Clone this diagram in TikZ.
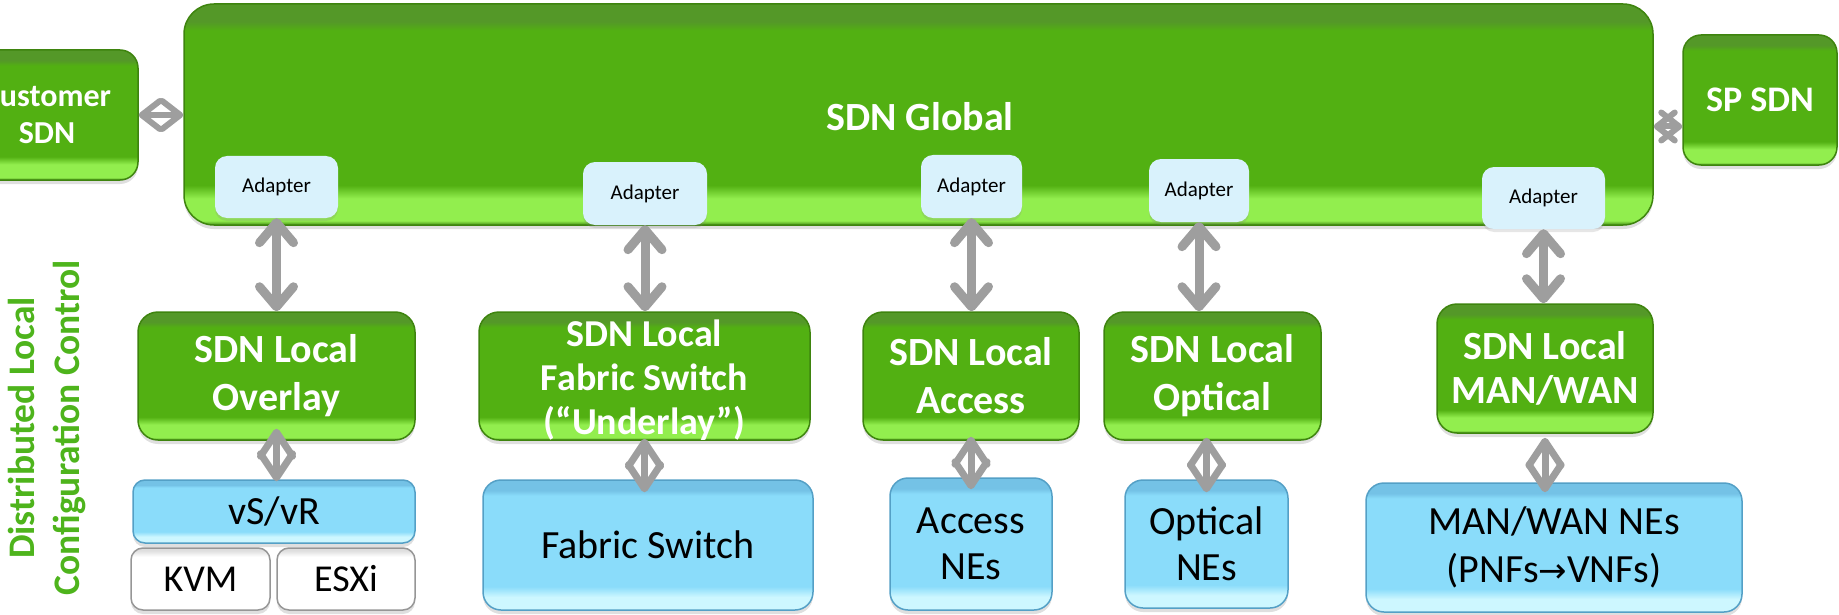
\documentclass[tikz,border=0pt]{standalone}
\usepackage{fontspec}
\setmainfont{Carlito}
\usetikzlibrary{arrows.meta,shadows}
\definecolor{gMain}{RGB}{82,176,18}
\definecolor{gTop}{RGB}{84,152,40}
\definecolor{gLight}{RGB}{146,238,78}
\definecolor{gBot}{RGB}{66,140,18}
\definecolor{gBorder}{RGB}{62,132,14}
\definecolor{bMain}{RGB}{138,220,250}
\definecolor{bTop}{RGB}{116,194,230}
\definecolor{bLight}{RGB}{205,247,255}
\definecolor{bBorder}{RGB}{84,160,198}
\definecolor{wTop}{RGB}{222,222,222}
\definecolor{wBorder}{RGB}{150,150,150}
\definecolor{adfill}{RGB}{217,242,252}
\definecolor{argray}{RGB}{158,158,158}
\definecolor{lblgreen}{RGB}{78,180,28}
\pgfdeclareverticalshading{greengloss}{100bp}{color(0bp)=(gBot); color(25bp)=(gBot); color(26bp)=(gLight); color(31bp)=(gLight); color(34bp)=(gMain); color(69bp)=(gMain); color(71bp)=(gTop); color(75bp)=(gTop); color(100bp)=(gTop)}
\pgfdeclareverticalshading{bluegloss}{100bp}{color(0bp)=(bLight); color(25bp)=(bLight); color(30bp)=(bLight); color(34bp)=(bMain); color(69bp)=(bMain); color(71bp)=(bTop); color(75bp)=(bTop); color(100bp)=(bTop)}
\pgfdeclareverticalshading{whitegloss}{100bp}{color(0bp)=(white); color(25bp)=(white); color(68bp)=(white); color(73bp)=(wTop); color(75bp)=(wTop); color(100bp)=(wTop)}
\tikzset{
  shad/.style={drop shadow={shadow xshift=0pt,shadow yshift=-4pt,opacity=0.25}},
  gbox/.style={shad, shading=greengloss, draw=gBorder, line width=1.5pt, rounded corners=20pt, inner sep=0pt, text=white, align=center, font=\fontsize{40}{48}\selectfont\bfseries},
  bbox/.style={shad, shading=bluegloss, draw=bBorder, line width=1.5pt, rounded corners=18pt, inner sep=0pt, text=black, align=center, font=\fontsize{40}{48}\selectfont},
  wbox/.style={shad, shading=whitegloss, draw=wBorder, line width=1.5pt, rounded corners=12pt, inner sep=0pt, text=black, align=center, font=\fontsize{38}{46}\selectfont},
  adbox/.style={fill=adfill, rounded corners=12pt, inner sep=0pt, text=black, font=\fontsize{21}{25}\selectfont, drop shadow={shadow xshift=0pt,shadow yshift=-3pt,opacity=0.2}},
  varrow/.style={draw=argray, line width=9pt, {Straight Barb[round,length=20pt,width=34pt]}-{Straight Barb[round,length=20pt,width=34pt]}},
  darrow/.style={draw=argray, line width=7pt, {Straight Barb[round,length=24pt,width=32pt]}-{Straight Barb[round,length=24pt,width=32pt]}},
  harrow/.style={draw=argray, line width=6pt, {Straight Barb[round,length=18pt,width=28pt]}-{Straight Barb[round,length=18pt,width=28pt]}},
}
\begin{document}
\begin{tikzpicture}[x=1pt,y=-1pt]
\useasboundingbox (0,0) rectangle (1839,615);
% side boxes
\node[gbox, rounded corners=18pt, minimum width=182pt, minimum height=130pt, font=\fontsize{32}{37}\selectfont\bfseries] (cust) at (47,115) {Customer\\SDN};
\node[gbox, rounded corners=18pt, minimum width=154pt, minimum height=130pt, font=\fontsize{36}{42}\selectfont\bfseries] (sp) at (1760,100) {SP SDN};
% global
\node[gbox, rounded corners=30pt, minimum width=1469pt, minimum height=221pt] (glob) at (918.5,114.5) {};
\node[text=white, font=\fontsize{40}{48}\selectfont\bfseries] (globt) at (920,117) {SDN Global};
% adapters
\node[adbox, minimum width=123pt, minimum height=62pt] (a1) at (276.5,187) {Adapter};
\node[adbox, minimum width=124pt, minimum height=63pt] (a2) at (645,193.5) {Adapter};
\node[adbox, minimum width=101pt, minimum height=63pt] (a3) at (971.5,186.5) {Adapter};
\node[adbox, minimum width=100pt, minimum height=63pt] (a4) at (1199,190.5) {Adapter};
\node[adbox, minimum width=123pt, minimum height=62pt] (a5) at (1543.5,198) {Adapter};
% local boxes
\node[gbox, minimum width=277pt, minimum height=128pt] (ov) at (276.5,376) {SDN Local\\Overlay};
\node[gbox, minimum width=331pt, minimum height=128pt] (fl) at (644.5,376) {};
\node[text=white, align=center, font=\fontsize{38}{44}\selectfont\bfseries] (flt) at (644.5,380) {SDN Local\\Fabric Switch\\(“Underlay”)};
\node[gbox, minimum width=216pt, minimum height=128pt] (ac) at (971,376) {SDN Local\\Access};
\node[gbox, minimum width=217pt, minimum height=128pt] (op) at (1212.5,376) {SDN Local\\Optical};
\node[gbox, minimum width=216pt, minimum height=129pt, font=\fontsize{40}{44}\selectfont\bfseries] (mw) at (1545,368.5) {SDN Local\\MAN/WAN};
% NE boxes
\node[bbox, rounded corners=12pt, minimum width=282pt, minimum height=63pt] (vs) at (274,511.5) {vS/vR};
\node[wbox, minimum width=139pt, minimum height=62pt] (kvm) at (200.5,579) {KVM};
\node[wbox, minimum width=138pt, minimum height=62pt] (esx) at (346,579) {ESXi};
\node[bbox, minimum width=330pt, minimum height=130pt] (fs) at (648,545) {Fabric Switch};
\node[bbox, minimum width=162pt, minimum height=132pt, font=\fontsize{40}{46}\selectfont] (an) at (971,544) {Access\\NEs};
\node[bbox, minimum width=163pt, minimum height=128pt, font=\fontsize{40}{46}\selectfont] (on) at (1206.5,544) {Optical\\NEs};
\node[bbox, minimum width=376pt, minimum height=129pt] (mn) at (1554,547.5) {MAN/WAN NEs\\(PNFs{\fontspec{DejaVu Sans}\fontsize{34}{40}\selectfont →}VNFs)};
% side label
\node[rotate=90, text=lblgreen, align=center, font=\fontsize{37.5}{45}\selectfont\bfseries] (lbl) at (47,428) {Distributed Local\\Configuration Control};
% connectors adapter -> local
\draw[varrow] (a1.south) -- (a1.south |- ov.north);
\draw[varrow] (a2.south) -- (a2.south |- fl.north);
\draw[varrow] (a3.south) -- (a3.south |- ac.north);
\draw[varrow] (a4.south) -- (a4.south |- op.north);
\draw[varrow] (a5.south) -- (a5.south |- mw.north);
% connectors local -> NE
\draw[darrow] ([yshift=12pt]ov.south) -- ([yshift=-2pt]ov.south |- vs.north);
\draw[darrow] ([yshift=2pt]fl.south) -- ([yshift=-13pt]fl.south |- fs.north);
\draw[darrow] ([yshift=4pt]ac.south) -- ([yshift=-12pt]ac.south |- an.north);
\draw[darrow] ([xshift=-6pt,yshift=3pt]op.south) -- ([xshift=-6pt,yshift=-13pt]op.south |- on.north);
\draw[darrow] ([yshift=-4pt]mw.south) -- ([yshift=-10pt]mw.south |- mn.north);
% side connectors
\draw[harrow] (cust.east) -- (cust.east -| glob.west);
\draw[harrow] ([yshift=-12pt]glob.east) -- ([yshift=-12pt]glob.east -| sp.west);
\end{tikzpicture}
\end{document}
